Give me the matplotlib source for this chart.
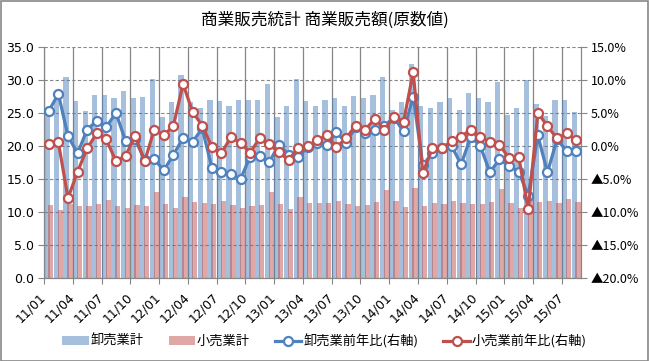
import matplotlib
matplotlib.use("Agg")
import matplotlib.pyplot as plt
import numpy as np
from matplotlib.transforms import ScaledTranslation
from matplotlib.patches import Rectangle
from matplotlib.lines import Line2D
from matplotlib.patches import Patch

title = "商業販売統計 商業販売額(原数値)"
tick_labels = ["11/01", "11/04", "11/07", "11/10", "12/01", "12/04", "12/07", "12/10",
               "13/01", "13/04", "13/07", "13/10", "14/01", "14/04", "14/07", "14/10",
               "15/01", "15/04", "15/07"]

wholesale = [25.3, 27.0, 30.4, 26.8, 25.25, 27.8, 27.8, 27.2, 28.4, 27.3, 27.5, 30.2,
             24.4, 26.6, 30.7, 26.7, 25.8, 26.9, 26.8, 26.0, 27.0, 26.9, 27.0, 29.4,
             24.4, 26.1, 30.2, 26.8, 26.0, 26.9, 27.2, 26.1, 27.6, 27.3, 27.8, 30.4,
             25.5, 26.7, 32.5, 26.0, 25.7, 26.7, 27.2, 25.4, 28.1, 27.3, 26.6, 29.7,
             24.7, 25.7, 30.0, 26.3, 24.6, 27.0, 27.0, 25.2]

retail = [11.1, 10.35, 11.25, 10.95, 10.95, 11.25, 11.85, 10.95, 10.65, 11.1, 10.95, 13.1,
          11.25, 10.65, 12.3, 11.55, 11.4, 11.25, 11.7, 11.1, 10.65, 10.95, 11.1, 13.1,
          11.25, 10.5, 12.3, 11.4, 11.4, 11.4, 11.7, 11.25, 10.95, 11.1, 11.55, 13.4,
          11.7, 10.8, 13.7, 10.95, 11.4, 11.25, 11.7, 11.4, 11.25, 11.25, 11.55, 13.5,
          11.4, 10.65, 12.4, 11.55, 11.7, 11.4, 12.0, 11.55]

wholesale_yoy = [5.3, 7.9, 1.5, -1.1, 2.5, 3.8, 2.9, 5.0, 0.8, 1.0, -2.1, -2.0,
                 -3.7, -1.3, 1.2, 0.6, 2.7, -3.3, -3.9, -4.3, -5.0, -1.6, -1.5, -2.4,
                 0.2, -1.3, -1.7, -0.1, 0.5, 0.1, 2.1, 0.5, 2.9, 1.9, 2.5, 3.1,
                 4.3, 2.2, 7.5, -2.9, -1.1, -0.35, 0.0, -2.8, 1.4, 0.0, -4.0, -2.0,
                 -3.0, -3.9, -7.5, 1.6, -4.0, 1.0, -0.75, -0.75]

retail_yoy = [0.3, 0.55, -7.9, -3.9, -0.35, 1.9, 1.0, -2.3, -1.5, 1.5, -2.3, 2.5,
              1.6, 3.1, 9.4, 5.15, 3.1, -0.1, -1.1, 1.35, 0.45, -1.0, 1.2, 0.25,
              -0.95, -2.1, -0.35, 0.0, 0.9, 1.6, -0.2, 1.15, 3.1, 2.5, 4.1, 2.5,
              4.4, 3.7, 11.2, -4.1, -0.35, -0.35, 0.75, 1.4, 2.5, 1.4, 0.55, 0.15,
              -1.8, -1.65, -9.6, 5.05, 3.0, 1.15, 1.9, 0.9]

series_names = ["卸売業計", "小売業計", "卸売業前年比(右軸)", "小売業前年比(右軸)"]

plt.rcParams['font.family'] = ['Noto Sans CJK JP', 'DejaVu Sans']

BLUE = "#4F81BD"
RED = "#C0504D"
GRID = "#868686"

fig = plt.figure(figsize=(6.49, 3.61), dpi=100)
L, R, T, B = 44, 581, 47, 278
W, H = 649, 361
ax = fig.add_axes([L / W, 1 - B / H, (R - L) / W, (B - T) / H])
ax2 = ax.twinx()

n = len(wholesale)
x = np.arange(n)
bw = 0.55
ax.bar(x - 0.2, wholesale, width=bw, color=BLUE, alpha=0.5, linewidth=0, zorder=2)
ax.bar(x + 0.2, retail, width=bw, color=RED, alpha=0.5, linewidth=0, zorder=3)

ax.set_xlim(-0.5, n - 0.5)
ax.set_ylim(0, 35)
ax.set_yticks(np.arange(0, 35.1, 5))
ax.set_yticklabels([f"{v:.1f}" for v in np.arange(0, 35.1, 5)], fontsize=9,
                   family=['DejaVu Sans'])
ax.yaxis.grid(True, color=GRID, linestyle=(0, (3, 2)), linewidth=0.8, zorder=1)

# x: boundaries as major ticks (gridlines), labels at minor ticks
bounds = np.arange(-0.5, n - 0.5, 3)
ax.set_xticks(bounds)
ax.set_xticklabels([])
ax.xaxis.grid(True, color=GRID, linestyle='-', linewidth=0.9, zorder=1)
label_pos = np.arange(0, n, 3)[:len(tick_labels)]
ax.set_xticks(label_pos, minor=True)
ax.set_xticklabels(tick_labels, minor=True, rotation=45, ha='right', va='center',
                   rotation_mode='anchor', fontsize=9, family=['DejaVu Sans'])
ax.tick_params(axis='x', which='minor', length=0, pad=12)
ax.tick_params(axis='x', which='major', length=4, color=GRID, direction='out')
ax.tick_params(axis='y', length=4, color=GRID, direction='out', pad=3)
off = ScaledTranslation(-5 / 100, 0, fig.dpi_scale_trans)
for lab in ax.get_xticklabels(minor=True):
    lab.set_transform(lab.get_transform() + off)
ax.set_axisbelow(True)

for s in ['left', 'bottom', 'right']:
    ax.spines[s].set_color(GRID)
ax.spines['top'].set_visible(False)
for s in ['left', 'bottom', 'right']:
    ax2.spines[s].set_color(GRID)
ax2.spines['top'].set_visible(False)

ax2.plot(x, wholesale_yoy, color=BLUE, linewidth=2.3, marker='o', markersize=6.5,
         markerfacecolor='white', markeredgecolor=BLUE, markeredgewidth=1.6, zorder=4)
ax2.plot(x, retail_yoy, color=RED, linewidth=2.3, marker='o', markersize=6.5,
         markerfacecolor='white', markeredgecolor=RED, markeredgewidth=1.6, zorder=5)
ax2.set_ylim(-20, 15)
rt = np.arange(-20, 15.1, 5)
ax2.set_yticks(rt)
ax2.set_yticklabels([(f"{v:.1f}%" if v >= 0 else f"▲{abs(v):.1f}%") for v in rt],
                    fontsize=9)
ax2.tick_params(axis='y', length=4, color=GRID, direction='out', pad=3)

fig.suptitle(title, x=0.5, y=1 - 20 / H, va='center', fontsize=12)

handles = [Patch(facecolor=BLUE, alpha=0.5, linewidth=0),
           Patch(facecolor=RED, alpha=0.5, linewidth=0),
           Line2D([], [], color=BLUE, linewidth=2.3, marker='o', markersize=6.5,
                  markerfacecolor='white', markeredgecolor=BLUE, markeredgewidth=1.6),
           Line2D([], [], color=RED, linewidth=2.3, marker='o', markersize=6.5,
                  markerfacecolor='white', markeredgecolor=RED, markeredgewidth=1.6)]
fig.legend(handles, series_names, loc='center', bbox_to_anchor=(0.5, 1 - 341 / H),
           ncol=4, frameon=False, fontsize=9.5, handlelength=2.0, handletextpad=0.15,
           columnspacing=1.9, handleheight=0.6)

fig.patches.append(Rectangle((0.5 / W, 0.5 / H), 1 - 1.5 / W, 1 - 1.5 / H,
                             transform=fig.transFigure, fill=False,
                             edgecolor="#888888", linewidth=1.2))

fig.savefig("out.png", dpi=100)
